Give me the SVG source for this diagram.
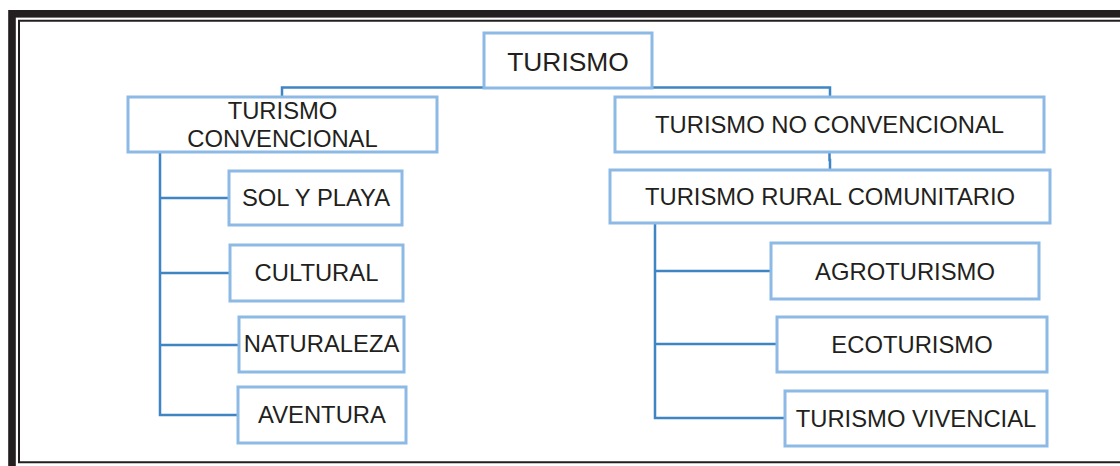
<svg xmlns="http://www.w3.org/2000/svg" width="1120" height="466" viewBox="0 0 1120 466">
<style>
.box{fill:#fff;stroke:#8db9e5;stroke-width:3}
.lbl{font-family:"Liberation Sans",Arial,sans-serif;font-size:23.8px;fill:#231f20;text-anchor:middle}
.con{fill:none;stroke:#3f84c3;stroke-width:2.5}
</style>
<rect x="0" y="0" width="1120" height="466" fill="#fff"/>
<g id="frame">
<rect x="12" y="13.8" width="1200" height="600" fill="none" stroke="#231f20" stroke-width="7.6"/>
<path d="M1125 20.8H19V462.3H1125" fill="none" stroke="#231f20" stroke-width="2"/>
</g>
<g id="connectors" class="con">
<path d="M282 97V87.5H830V97"/>
<path d="M829.5 152V160H830V170"/>
<path d="M160 152V415H238M160 198H229M160 273H230M160 345H239"/>
<path d="M655 223V418H785M655 271H771M655 344H777"/>
</g>
<g id="n-turismo"><rect class="box" x="484" y="33" width="168" height="55"/><text class="lbl" x="568" y="71" style="font-size:26.4px">TURISMO</text></g>
<g id="n-convencional"><rect class="box" x="128" y="97" width="309" height="55"/><text class="lbl" x="282.5" y="119">TURISMO</text><text class="lbl" x="282.5" y="146.5">CONVENCIONAL</text></g>
<g id="n-noconvencional"><rect class="box" x="615" y="97" width="429" height="55"/><text class="lbl" x="829.5" y="132.7">TURISMO NO CONVENCIONAL</text></g>
<g id="n-rural"><rect class="box" x="610" y="170" width="440" height="53"/><text class="lbl" x="830" y="205">TURISMO RURAL COMUNITARIO</text></g>
<g id="n-sol"><rect class="box" x="229" y="171" width="173" height="54"/><text class="lbl" x="316" y="206">SOL Y PLAYA</text></g>
<g id="n-cultural"><rect class="box" x="230" y="245" width="173" height="56"/><text class="lbl" x="316.5" y="281">CULTURAL</text></g>
<g id="n-naturaleza"><rect class="box" x="239" y="317" width="165" height="55"/><text class="lbl" x="321.5" y="351.7">NATURALEZA</text></g>
<g id="n-aventura"><rect class="box" x="238" y="387" width="168" height="56"/><text class="lbl" x="322" y="422.7">AVENTURA</text></g>
<g id="n-agro"><rect class="box" x="771" y="243" width="268" height="56"/><text class="lbl" x="905" y="280">AGROTURISMO</text></g>
<g id="n-eco"><rect class="box" x="777" y="317" width="270" height="55"/><text class="lbl" x="912" y="353">ECOTURISMO</text></g>
<g id="n-vivencial"><rect class="box" x="785" y="391" width="262" height="55"/><text class="lbl" x="916" y="426.7">TURISMO VIVENCIAL</text></g>
</svg>
